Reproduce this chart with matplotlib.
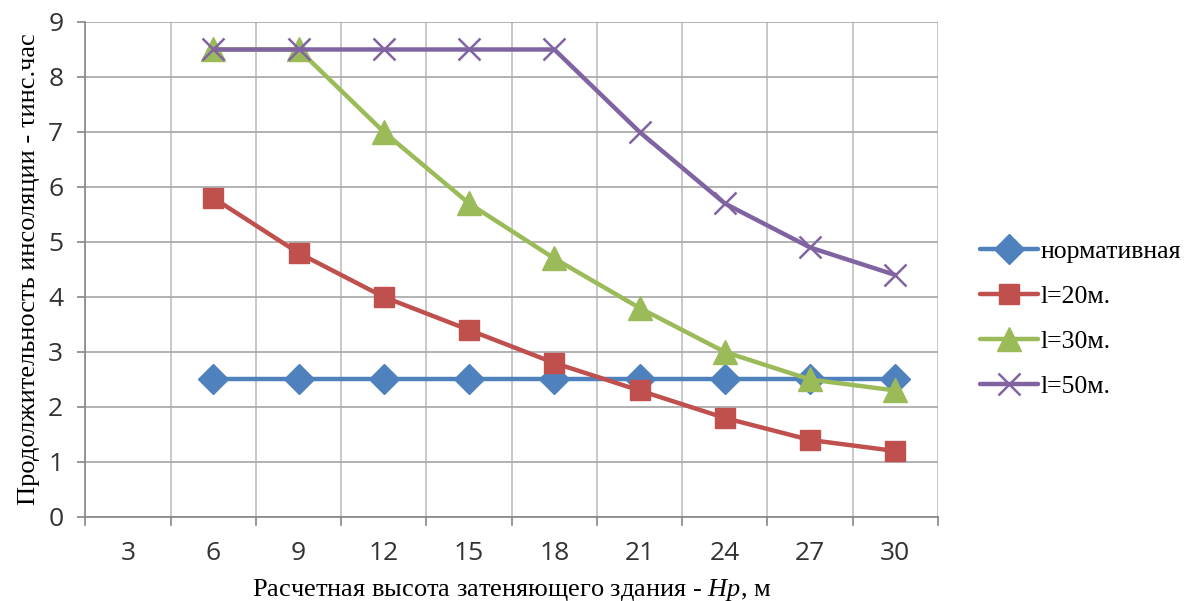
import matplotlib
matplotlib.use("Agg")
import matplotlib.pyplot as plt
import numpy as np

# Building heights (categories) and insolation durations, hours
heights = [3, 6, 9, 12, 15, 18, 21, 24, 27, 30]
normative = [None, 2.5, 2.5, 2.5, 2.5, 2.5, 2.5, 2.5, 2.5, 2.5]
l20 = [None, 5.8, 4.8, 4.0, 3.4, 2.8, 2.3, 1.8, 1.4, 1.2]
l30 = [None, 8.5, 8.5, 7.0, 5.7, 4.7, 3.8, 3.0, 2.5, 2.3]
l50 = [None, 8.5, 8.5, 8.5, 8.5, 8.5, 7.0, 5.7, 4.9, 4.4]
series_names = ["нормативная", "l=20м.", "l=30м.", "l=50м."]

plt.rcParams["mathtext.fontset"] = "custom"
plt.rcParams["mathtext.rm"] = "Liberation Serif"
plt.rcParams["mathtext.it"] = "Liberation Serif:italic"

serif = ["Liberation Serif", "DejaVu Serif"]
sans = ["Open Sans", "DejaVu Sans"]

fig = plt.figure(figsize=(11.84, 6.01), dpi=100)
ax = fig.add_axes([0.0722, 0.1398, 0.7200, 0.8236])

pos = np.arange(len(heights))


def arr(v):
    return np.array([np.nan if x is None else x for x in v], dtype=float)


styles = [
    dict(color="#4F81BD", marker="D", ms=15),
    dict(color="#C0504D", marker="s", ms=15),
    dict(color="#9BBB59", marker="^", ms=17),
    dict(color="#8064A2", marker="x", ms=16, mew=1.8),
]
for vals, name, st in zip([normative, l20, l30, l50], series_names, styles):
    ax.plot(pos, arr(vals), lw=3.2, label=name, solid_capstyle="round",
            clip_on=False, zorder=3, **st)

ax.set_xlim(-0.5, len(heights) - 0.5)
ax.set_ylim(0, 9)
ax.set_yticks(range(0, 10))
ax.set_xticks(pos)
ax.set_xticklabels([str(h) for h in heights])
ax.set_xticks(np.arange(-0.5, len(heights), 0.5), minor=True)
ax.grid(True, which="minor", axis="x", color="#BFBFBF", lw=1.2)
ax.grid(True, which="major", axis="y", color="#A6A6A6", lw=1.2)
ax.set_axisbelow(True)

for side in ["top", "right"]:
    ax.spines[side].set_visible(False)
ax.spines["left"].set_color("#868686")
ax.spines["bottom"].set_color("#868686")
ax.spines["left"].set_linewidth(1.2)
ax.spines["bottom"].set_linewidth(1.2)

ax.tick_params(axis="x", which="major", length=0, pad=17, labelsize=19)
ax.tick_params(axis="x", which="minor", length=0)
ax.tick_params(axis="y", length=6, color="#868686", width=1.2, labelsize=19, pad=10)
for t in ax.get_xticklabels() + ax.get_yticklabels():
    t.set_fontfamily(sans)
    t.set_color("#333333")

# category boundary ticks below the x axis
for b in np.arange(-0.5, len(heights), 1.0):
    ax.plot([b, b], [0, -0.14], color="#868686", lw=1.2, clip_on=False)

ax.set_xlabel("Расчетная высота затеняющего здания - $\\mathit{Hp}$, м",
              fontfamily=serif, fontsize=19, labelpad=8)
ax.set_ylabel("Продолжительность инсоляции - τинс.час",
              fontfamily=serif, fontsize=19, labelpad=6)

leg = ax.legend(loc="center left", bbox_to_anchor=(1.037, 0.400), frameon=False,
                prop={"family": serif, "size": 18.5}, handlelength=2.25,
                labelspacing=0.85, handletextpad=0.1, borderaxespad=0)

fig.savefig("out.png", dpi=100, facecolor="white")
